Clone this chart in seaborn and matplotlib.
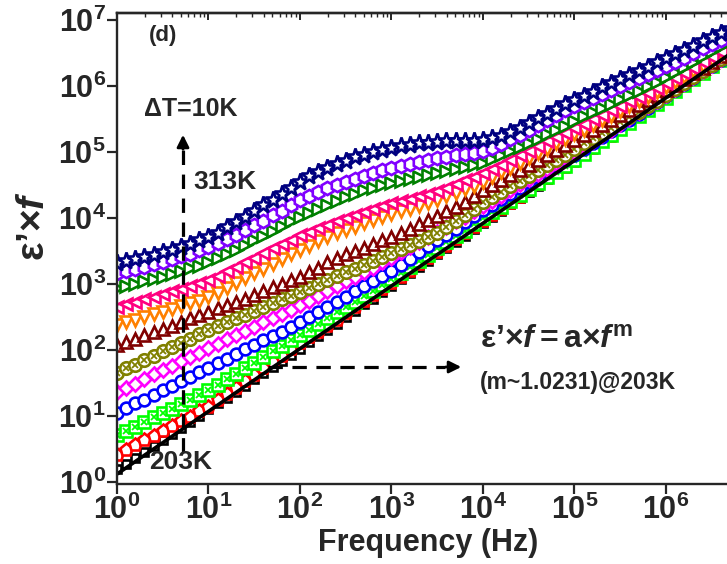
import matplotlib
matplotlib.use("Agg")
import matplotlib.pyplot as plt
import seaborn as sns
import numpy as np
from matplotlib.lines import Line2D
from matplotlib.ticker import FuncFormatter, LogLocator, NullFormatter

# ---------------- data (log10 values) ----------------
log_freq = [0.0, 0.1, 0.2, 0.3, 0.4, 0.5, 0.6, 0.7, 0.8, 0.9,
            1.0, 1.1, 1.2, 1.3, 1.4, 1.5, 1.6, 1.7, 1.8, 1.9,
            2.0, 2.1, 2.2, 2.3, 2.4, 2.5, 2.6, 2.7, 2.8, 2.9,
            3.0, 3.1, 3.2, 3.3, 3.4, 3.5, 3.6, 3.7, 3.8, 3.9,
            4.0, 4.1, 4.2, 4.3, 4.4, 4.5, 4.6, 4.7, 4.8, 4.9,
            5.0, 5.1, 5.2, 5.3, 5.4, 5.5, 5.6, 5.7, 5.8, 5.9,
            6.0, 6.1, 6.2, 6.3, 6.4, 6.5, 6.6, 6.7]

log_203K = [0.20, 0.28, 0.37, 0.46, 0.55, 0.64, 0.73, 0.82, 0.91, 1.00,
            1.10, 1.19, 1.28, 1.37, 1.46, 1.56, 1.65, 1.74, 1.84, 1.93,
            2.02, 2.12, 2.21, 2.31, 2.40, 2.50, 2.59, 2.69, 2.78, 2.88,
            2.97, 3.07, 3.16, 3.26, 3.35, 3.45, 3.54, 3.64, 3.73, 3.83,
            3.92, 4.02, 4.11, 4.21, 4.30, 4.40, 4.49, 4.59, 4.68, 4.78,
            4.87, 4.97, 5.06, 5.16, 5.25, 5.35, 5.44, 5.54, 5.63, 5.73,
            5.82, 5.92, 6.01, 6.11, 6.20, 6.30, 6.39, 6.49]
log_213K = [0.41, 0.48, 0.56, 0.63, 0.70, 0.78, 0.85, 0.92, 0.99, 1.07,
            1.14, 1.24, 1.34, 1.43, 1.53, 1.62, 1.72, 1.82, 1.91, 2.01,
            2.10, 2.19, 2.28, 2.37, 2.46, 2.56, 2.65, 2.74, 2.83, 2.92,
            3.01, 3.11, 3.20, 3.30, 3.39, 3.49, 3.58, 3.68, 3.77, 3.87,
            3.96, 4.05, 4.14, 4.23, 4.32, 4.42, 4.51, 4.60, 4.69, 4.78,
            4.87, 4.97, 5.06, 5.16, 5.25, 5.35, 5.44, 5.54, 5.63, 5.73,
            5.82, 5.92, 6.01, 6.11, 6.20, 6.30, 6.39, 6.48]
log_223K = [0.71, 0.78, 0.84, 0.91, 0.98, 1.05, 1.11, 1.18, 1.25, 1.32,
            1.39, 1.47, 1.56, 1.64, 1.73, 1.81, 1.89, 1.98, 2.06, 2.15,
            2.23, 2.31, 2.40, 2.48, 2.57, 2.65, 2.73, 2.82, 2.90, 2.99,
            3.07, 3.16, 3.26, 3.35, 3.44, 3.54, 3.63, 3.72, 3.81, 3.91,
            4.00, 4.09, 4.17, 4.26, 4.35, 4.44, 4.53, 4.62, 4.70, 4.79,
            4.88, 4.97, 5.07, 5.16, 5.26, 5.35, 5.44, 5.54, 5.63, 5.73,
            5.82, 5.92, 6.01, 6.11, 6.20, 6.30, 6.39, 6.48]
log_233K = [1.05, 1.12, 1.19, 1.25, 1.32, 1.39, 1.46, 1.53, 1.59, 1.66,
            1.73, 1.80, 1.87, 1.94, 2.01, 2.08, 2.15, 2.21, 2.28, 2.35,
            2.42, 2.50, 2.58, 2.65, 2.73, 2.81, 2.89, 2.97, 3.04, 3.12,
            3.20, 3.29, 3.38, 3.48, 3.57, 3.66, 3.75, 3.84, 3.94, 4.03,
            4.12, 4.20, 4.29, 4.37, 4.46, 4.54, 4.62, 4.71, 4.79, 4.88,
            4.96, 5.05, 5.14, 5.23, 5.32, 5.41, 5.49, 5.58, 5.67, 5.76,
            5.85, 5.94, 6.03, 6.12, 6.22, 6.31, 6.40, 6.49]
log_243K = [1.36, 1.43, 1.49, 1.56, 1.63, 1.70, 1.76, 1.83, 1.90, 1.96,
            2.03, 2.09, 2.16, 2.22, 2.29, 2.35, 2.42, 2.48, 2.55, 2.61,
            2.68, 2.75, 2.82, 2.89, 2.97, 3.04, 3.11, 3.18, 3.25, 3.33,
            3.40, 3.48, 3.56, 3.63, 3.71, 3.79, 3.87, 3.95, 4.02, 4.10,
            4.18, 4.26, 4.34, 4.43, 4.51, 4.59, 4.67, 4.75, 4.84, 4.92,
            5.00, 5.09, 5.17, 5.26, 5.34, 5.43, 5.52, 5.60, 5.69, 5.77,
            5.86, 5.95, 6.04, 6.13, 6.23, 6.32, 6.41, 6.50]
log_253K = [1.65, 1.72, 1.78, 1.85, 1.91, 1.98, 2.04, 2.11, 2.17, 2.24,
            2.30, 2.36, 2.42, 2.48, 2.53, 2.59, 2.65, 2.71, 2.77, 2.82,
            2.88, 2.94, 3.00, 3.06, 3.12, 3.18, 3.23, 3.29, 3.35, 3.41,
            3.47, 3.53, 3.59, 3.65, 3.71, 3.77, 3.86, 3.95, 4.04, 4.14,
            4.24, 4.32, 4.40, 4.48, 4.56, 4.64, 4.72, 4.80, 4.88, 4.96,
            5.05, 5.13, 5.21, 5.29, 5.37, 5.45, 5.53, 5.61, 5.69, 5.78,
            5.87, 5.96, 6.05, 6.14, 6.23, 6.32, 6.41, 6.50]
log_263K = [2.07, 2.12, 2.17, 2.22, 2.27, 2.32, 2.37, 2.43, 2.48, 2.53,
            2.58, 2.63, 2.68, 2.73, 2.78, 2.84, 2.89, 2.95, 3.00, 3.06,
            3.11, 3.18, 3.25, 3.33, 3.40, 3.45, 3.50, 3.55, 3.60, 3.66,
            3.71, 3.77, 3.84, 3.91, 3.97, 4.03, 4.10, 4.17, 4.25, 4.34,
            4.42, 4.50, 4.57, 4.65, 4.72, 4.80, 4.88, 4.95, 5.03, 5.10,
            5.18, 5.26, 5.33, 5.41, 5.48, 5.56, 5.64, 5.71, 5.79, 5.86,
            5.94, 6.02, 6.11, 6.20, 6.28, 6.37, 6.45, 6.54]
log_273K = [2.38, 2.42, 2.46, 2.50, 2.54, 2.58, 2.62, 2.67, 2.71, 2.75,
            2.80, 2.87, 2.94, 3.01, 3.09, 3.16, 3.23, 3.31, 3.38, 3.45,
            3.52, 3.58, 3.65, 3.71, 3.77, 3.82, 3.87, 3.92, 3.97, 4.01,
            4.06, 4.10, 4.14, 4.18, 4.23, 4.28, 4.33, 4.38, 4.44, 4.49,
            4.55, 4.62, 4.69, 4.76, 4.84, 4.91, 4.98, 5.05, 5.13, 5.20,
            5.27, 5.34, 5.41, 5.48, 5.55, 5.62, 5.70, 5.77, 5.84, 5.91,
            5.98, 6.06, 6.14, 6.23, 6.31, 6.39, 6.48, 6.56]
log_283K = [2.65, 2.69, 2.73, 2.77, 2.81, 2.85, 2.89, 2.93, 2.97, 3.01,
            3.06, 3.12, 3.19, 3.26, 3.33, 3.40, 3.47, 3.54, 3.61, 3.67,
            3.74, 3.79, 3.85, 3.90, 3.95, 4.00, 4.05, 4.09, 4.13, 4.18,
            4.22, 4.26, 4.29, 4.33, 4.37, 4.41, 4.46, 4.51, 4.57, 4.62,
            4.68, 4.75, 4.81, 4.88, 4.95, 5.02, 5.09, 5.16, 5.22, 5.29,
            5.36, 5.43, 5.50, 5.56, 5.63, 5.70, 5.77, 5.84, 5.90, 5.97,
            6.04, 6.12, 6.20, 6.28, 6.36, 6.44, 6.52, 6.60]
log_293K = [2.94, 2.97, 3.00, 3.04, 3.07, 3.11, 3.15, 3.19, 3.24, 3.28,
            3.33, 3.39, 3.45, 3.52, 3.59, 3.66, 3.73, 3.80, 3.88, 3.95,
            4.02, 4.08, 4.14, 4.20, 4.26, 4.32, 4.37, 4.42, 4.46, 4.50,
            4.53, 4.56, 4.59, 4.62, 4.65, 4.68, 4.71, 4.74, 4.77, 4.80,
            4.84, 4.89, 4.95, 5.01, 5.07, 5.14, 5.20, 5.27, 5.34, 5.40,
            5.47, 5.54, 5.60, 5.67, 5.73, 5.80, 5.87, 5.93, 6.00, 6.06,
            6.13, 6.21, 6.29, 6.37, 6.45, 6.53, 6.61, 6.68]
log_303K = [3.17, 3.20, 3.23, 3.26, 3.30, 3.34, 3.38, 3.42, 3.46, 3.51,
            3.56, 3.62, 3.68, 3.75, 3.82, 3.89, 3.96, 4.04, 4.11, 4.19,
            4.27, 4.33, 4.39, 4.45, 4.50, 4.55, 4.59, 4.64, 4.68, 4.72,
            4.76, 4.79, 4.82, 4.85, 4.88, 4.91, 4.93, 4.95, 4.97, 4.99,
            5.01, 5.06, 5.12, 5.19, 5.26, 5.33, 5.41, 5.48, 5.56, 5.63,
            5.70, 5.76, 5.82, 5.88, 5.94, 6.00, 6.06, 6.12, 6.18, 6.24,
            6.30, 6.37, 6.43, 6.50, 6.57, 6.63, 6.70, 6.76]
log_313K = [3.32, 3.35, 3.38, 3.41, 3.44, 3.48, 3.52, 3.56, 3.61, 3.66,
            3.71, 3.78, 3.86, 3.94, 4.02, 4.10, 4.19, 4.28, 4.37, 4.46,
            4.55, 4.63, 4.70, 4.76, 4.82, 4.87, 4.92, 4.96, 5.00, 5.03,
            5.06, 5.09, 5.11, 5.13, 5.14, 5.15, 5.16, 5.16, 5.17, 5.17,
            5.18, 5.21, 5.25, 5.30, 5.37, 5.44, 5.51, 5.58, 5.65, 5.72,
            5.79, 5.85, 5.91, 5.98, 6.04, 6.10, 6.16, 6.23, 6.29, 6.36,
            6.42, 6.48, 6.55, 6.61, 6.68, 6.74, 6.81, 6.87]

temperatures = ["203K", "213K", "223K", "233K", "243K", "253K",
                "263K", "273K", "283K", "293K", "303K", "313K"]
series = [log_203K, log_213K, log_223K, log_233K, log_243K, log_253K,
          log_263K, log_273K, log_283K, log_293K, log_303K, log_313K]

# power-law fit line at 203 K, read at its two ends
fit_freq = [1.0, 1.0e7]
fit_value = [1.32, 5.9e6]

x_tick_exps = [0, 1, 2, 3, 4, 5, 6]
y_tick_exps = [0, 1, 2, 3, 4, 5, 6, 7]

# ---------------- styles ----------------
colors = ["#000000", "#FF0000", "#00FF00", "#0000FF", "#FF00FF", "#808000",
          "#800000", "#FF8000", "#FF0080", "#008000", "#8000FF", "#000080"]
markers = ["s", "p", "s", "o", "D", "o", "^", "v", "<", ">", "h", "*"]
overlay = [None, None, "x", None, None, "x", None, None, None, None, None, None]
msizes = [6, 9.5, 8.5, 8.5, 7.5, 9, 9, 9, 9, 9, 9.5, 12.5]

sns.set_style("ticks")
plt.rcParams["font.family"] = ["Liberation Sans", "DejaVu Sans"]
plt.rcParams["font.weight"] = "bold"
plt.rcParams["mathtext.fontset"] = "custom"
plt.rcParams["mathtext.rm"] = "Liberation Sans:bold"
plt.rcParams["mathtext.bf"] = "Liberation Sans:bold"
plt.rcParams["mathtext.it"] = "Liberation Sans:bold:italic"

W, H = 727, 564
fig = plt.figure(figsize=(W / 100, H / 100), dpi=100)
ax = fig.add_axes([117 / W, 80 / H, 623 / W, 471 / H])

freq = [10 ** v for v in log_freq]
for vals, c, m, ov, ms in zip(series, colors, markers, overlay, msizes):
    y = [10 ** v for v in vals]
    sns.lineplot(x=freq, y=y, ax=ax, color=c, marker=m, linestyle="",
                 markersize=ms, markerfacecolor="white", markeredgecolor=c,
                 markeredgewidth=1.9, errorbar=None, sort=False)
    if ov is not None:
        sns.lineplot(x=freq, y=y, ax=ax, color=c, marker=ov, linestyle="",
                     markersize=ms * 0.55, markeredgecolor=c,
                     markeredgewidth=1.3, errorbar=None, sort=False)

sns.lineplot(x=fit_freq, y=fit_value, ax=ax, color="black", linewidth=2.6,
             errorbar=None, sort=False)

ax.set_xscale("log")
ax.set_yscale("log")
ax.set_xlim(1, 10 ** 6.809)
ax.set_ylim(10 ** -0.03, 10 ** 7.106)

fmt = FuncFormatter(lambda v, p: r"$\mathbf{10^{%d}}$" % int(round(np.log10(v))))
ax.set_xticks([10.0 ** e for e in x_tick_exps])
ax.set_yticks([10.0 ** e for e in y_tick_exps])
ax.xaxis.set_major_formatter(fmt)
ax.yaxis.set_major_formatter(fmt)
ax.xaxis.set_minor_locator(LogLocator(base=10, subs=np.arange(2, 10)))
ax.yaxis.set_minor_locator(LogLocator(base=10, subs=np.arange(2, 10)))
ax.xaxis.set_minor_formatter(NullFormatter())
ax.yaxis.set_minor_formatter(NullFormatter())
ax.tick_params(which="major", direction="out", length=7, width=1.6,
               labelsize=22, pad=1)
ax.tick_params(which="minor", direction="out", length=3.5, width=1.1)
for s in ax.spines.values():
    s.set_linewidth(1.7)

top = ax.secondary_xaxis("top")
top.set_xticks([10.0 ** e for e in x_tick_exps])
top.xaxis.set_minor_locator(LogLocator(base=10, subs=np.arange(2, 10)))
top.xaxis.set_major_formatter(NullFormatter())
top.xaxis.set_minor_formatter(NullFormatter())
top.tick_params(which="major", direction="in", length=5, width=1.4)
top.tick_params(which="minor", direction="in", length=3, width=1.0)
top.spines["top"].set_linewidth(1.7)

ax.set_xlabel("")
ax.set_ylabel("")


def P(x, y):
    return (x / W, 1 - y / H)


fig.text(*P(428, 543), "Frequency (Hz)", fontsize=22, fontweight="bold",
         ha="center", va="center")
fig.text(*P(34, 226), r"$\mathrm{ε’×}\mathit{f}$",
         fontsize=28, rotation=90, ha="center", va="center")

fig.text(*P(163, 36), "(d)", fontsize=16, fontweight="bold", ha="center", va="center")
fig.text(*P(191, 109), "ΔT=10K", fontsize=18, fontweight="bold", ha="center", va="center")
fig.text(*P(225, 182), "313K", fontsize=19, fontweight="bold", ha="center", va="center")
fig.text(*P(181, 462), "203K", fontsize=19, fontweight="bold", ha="center", va="center")
fig.text(*P(480, 340), r"$\mathrm{ε’×}\mathit{f}\mathrm{=a×}\mathit{f}^{\mathrm{m}}$",
         fontsize=23, ha="left", va="center")
fig.text(*P(480, 383), "(m~1.0231)@203K", fontsize=16.5, fontweight="bold",
         ha="left", va="center")

# dashed arrows
fig.add_artist(Line2D([183 / W, 183 / W], [1 - 452 / H, 1 - 150 / H],
                      transform=fig.transFigure, color="black", lw=2.3,
                      linestyle=(0, (4.5, 3))))
ax.annotate("", xy=P(183, 132), xytext=P(183, 152), xycoords="figure fraction",
            textcoords="figure fraction",
            arrowprops=dict(arrowstyle="-|>", color="black", lw=2.0, mutation_scale=18))
fig.add_artist(Line2D([268 / W, 445 / W], [1 - 367 / H, 1 - 367 / H],
                      transform=fig.transFigure, color="black", lw=2.3,
                      linestyle=(0, (4.5, 3))))
ax.annotate("", xy=P(464, 367), xytext=P(443, 367), xycoords="figure fraction",
            textcoords="figure fraction",
            arrowprops=dict(arrowstyle="-|>", color="black", lw=2.0, mutation_scale=18))

fig.savefig("out.png", dpi=100)
